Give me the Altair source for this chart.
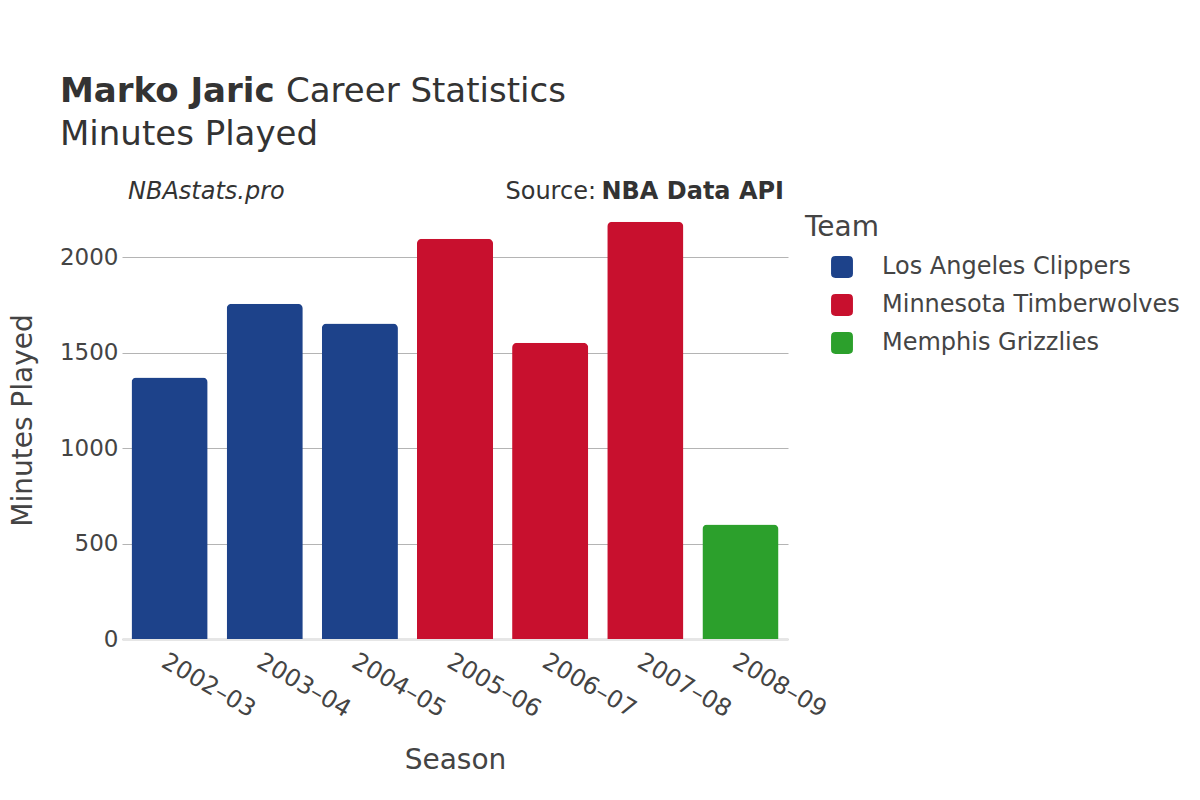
import altair as alt
import pandas as pd

seasons = ["2002–03", "2003–04", "2004–05", "2005–06", "2006–07", "2007–08", "2008–09"]
teams = ["Los Angeles Clippers", "Los Angeles Clippers", "Los Angeles Clippers",
         "Minnesota Timberwolves", "Minnesota Timberwolves", "Minnesota Timberwolves",
         "Memphis Grizzlies"]
minutes = [1370, 1756, 1653, 2096, 1552, 2185, 600]

team_order = ["Los Angeles Clippers", "Minnesota Timberwolves", "Memphis Grizzlies"]
team_colors = ["#1d428a", "#c8102e", "#2ca02c"]

df = pd.DataFrame({"Season": seasons, "Team": teams, "Minutes": minutes})

FONT = "DejaVu Sans"
W, H = 666, 438

rounded = ("M -0.6 -1 L 0.6 -1 Q 1 -1 1 -0.6 L 1 0.6 Q 1 1 0.6 1 "
           "L -0.6 1 Q -1 1 -1 0.6 L -1 -0.6 Q -1 -1 -0.6 -1 Z")

bars = alt.Chart(df).mark_bar(cornerRadiusTopLeft=5, cornerRadiusTopRight=5).encode(
    x=alt.X("Season:N", sort=seasons,
            scale=alt.Scale(paddingInner=0.2, paddingOuter=0.1),
            axis=alt.Axis(title="Season", labelAngle=30, labelAlign="left",
                          labelBaseline="top", labelPadding=10, ticks=False,
                          labelFontSize=24, labelColor="#444444", labelFont=FONT,
                          titleFontSize=28, titleColor="#444444", titleFont=FONT,
                          titleFontWeight="normal", titleX=W / 2, titleY=121,
                          titleBaseline="middle", titleAlign="center",
                          domainColor="#e6e6e6", domainWidth=3, grid=False)),
    y=alt.Y("Minutes:Q", scale=alt.Scale(domain=[0, 2294], nice=False),
            axis=alt.Axis(title="Minutes Played", values=[0, 500, 1000, 1500, 2000],
                          format="d", ticks=False, domain=False, labelPadding=4,
                          labelFontSize=23, labelColor="#444444", labelFont=FONT,
                          titleFontSize=28, titleColor="#444444", titleFont=FONT,
                          titleFontWeight="normal", titleX=-99, titleY=H / 2,
                          titleAngle=-90, titleBaseline="middle", titleAlign="center",
                          gridColor="#b4b4b4", gridWidth=1)),
    color=alt.Color("Team:N", sort=team_order,
                    scale=alt.Scale(domain=team_order, range=team_colors),
                    legend=alt.Legend(title=None, orient="none", legendX=708, legendY=54,
                                      symbolType=rounded, symbolSize=480,
                                      symbolStrokeWidth=0, symbolOpacity=1,
                                      labelFontSize=24, labelFont=FONT, labelLimit=400,
                                      labelColor="#444444", labelOffset=28,
                                      rowPadding=14)),
)

def txt(text, x, y, size, weight="normal", style="normal", align="left", color="#333333"):
    return alt.Chart(pd.DataFrame({"t": [text]})).mark_text(
        align=align, baseline="alphabetic", fontSize=size, fontWeight=weight,
        fontStyle=style, font=FONT, color=color
    ).encode(text="t:N", x=alt.value(x), y=alt.value(y))

texts = [
    txt("Marko Jaric", -62, -99, 34, weight="bold"),
    txt("Career Statistics", 164, -99, 34),
    txt("Minutes Played", -62, -56, 34),
    txt("NBAstats.pro", 6, -2, 24, style="italic"),
    txt("Source:", 474, -2, 24, align="right"),
    txt("NBA Data API", 662, -2, 24, weight="bold", align="right"),
    txt("Team", 683, 35, 28, color="#444444"),
]

chart = alt.layer(bars, *texts).properties(
    width=W, height=H,
    autosize=alt.AutoSizeParams(type="none"),
    padding={"left": 114, "top": 193, "right": 400, "bottom": 150},
    background="white",
).configure_view(stroke=None)

chart.save("out.html", embed_options={"renderer": "svg", "actions": False})
